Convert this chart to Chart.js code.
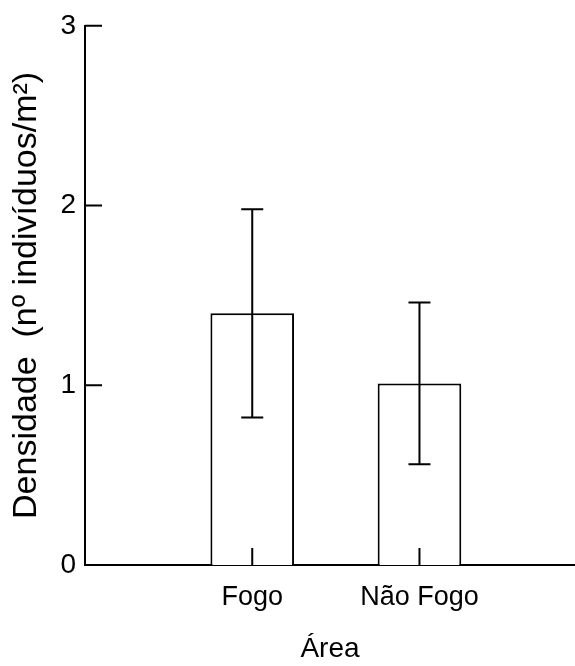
<!DOCTYPE html>
<html>
<head>
<meta charset="utf-8">
<script src="https://cdn.jsdelivr.net/npm/chart.js@4.4.1/dist/chart.umd.min.js"></script>
<style>
  html, body { margin: 0; padding: 0; background: #fff; overflow: hidden; }
</style>
</head>
<body>
<canvas id="chart" width="575" height="666"></canvas>
<script>
// data
const categories = ["Fogo", "Não Fogo"];
const means = [1.40, 1.01];
const errors = [0.58, 0.45];
const yTicks = [0, 1, 2, 3];
const xMax = 2.93; // axis runs off the right edge in the original

const FONT = "'Liberation Sans', Arial, sans-serif";

// error bars + inward tick marks
const errorBars = {
  id: "errorBars",
  afterDatasetsDraw(chart) {
    const ctx = chart.ctx;
    const y = chart.scales.y;
    const area = chart.chartArea;
    const meta = chart.getDatasetMeta(0);
    ctx.save();
    ctx.strokeStyle = "#000";
    ctx.lineWidth = 2;
    ctx.beginPath();
    meta.data.forEach((bar, i) => {
      const top = y.getPixelForValue(means[i] + errors[i]);
      const bot = y.getPixelForValue(means[i] - errors[i]);
      ctx.moveTo(bar.x, top); ctx.lineTo(bar.x, bot);
      ctx.moveTo(bar.x - 11, top); ctx.lineTo(bar.x + 11, top);
      ctx.moveTo(bar.x - 11, bot); ctx.lineTo(bar.x + 11, bot);
      // x tick mark
      ctx.moveTo(bar.x, area.bottom); ctx.lineTo(bar.x, area.bottom - 17);
    });
    yTicks.forEach(v => {
      const py = y.getPixelForValue(v);
      ctx.moveTo(area.left, py); ctx.lineTo(area.left + 17, py);
    });
    ctx.stroke();
    ctx.restore();
  }
};

new Chart(document.getElementById("chart"), {
  type: "bar",
  data: {
    datasets: [{
      data: means.map((m, i) => ({ x: i + 1, y: m })),
      backgroundColor: "#fff",
      borderColor: "#000",
      borderWidth: 2,
      borderSkipped: "bottom",
      barPercentage: 0.5,
      categoryPercentage: 1
    }]
  },
  options: {
    responsive: false,
    animation: false,
    devicePixelRatio: 1,
    layout: { padding: { top: 24, right: 0, left: 0, bottom: 0 } },
    plugins: { legend: { display: false }, tooltip: { enabled: false } },
    scales: {
      x: {
        type: "linear",
        min: 0,
        max: xMax,
        offset: false,
        afterBuildTicks(scale) { scale.ticks = categories.map((c, i) => ({ value: i + 1 })); },
        grid: { display: false, drawTicks: false },
        border: { display: true, color: "#000", width: 2 },
        ticks: {
          color: "#000", font: { family: FONT, size: 27 }, padding: 16, maxRotation: 0, autoSkip: false,
          callback: v => categories[v - 1]
        },
        title: { display: true, text: "Área", color: "#000", font: { family: FONT, size: 28 }, padding: { top: 12, bottom: 0 } },
        afterFit(scale) { scale.height = 101; }
      },
      y: {
        min: 0,
        max: 3,
        afterBuildTicks(scale) { scale.ticks = yTicks.map(v => ({ value: v })); },
        grid: { display: false, drawTicks: false },
        border: { display: true, color: "#000", width: 2 },
        ticks: { color: "#000", font: { family: FONT, size: 28 }, padding: 9 },
        title: { display: true, text: "Densidade  (nº indivíduos/m²)", color: "#000", font: { family: FONT, size: 34 }, padding: { top: 6, bottom: 6 } },
        afterFit(scale) { scale.width = 85; }
      }
    }
  },
  plugins: [errorBars]
});
</script>
</body>
</html>
